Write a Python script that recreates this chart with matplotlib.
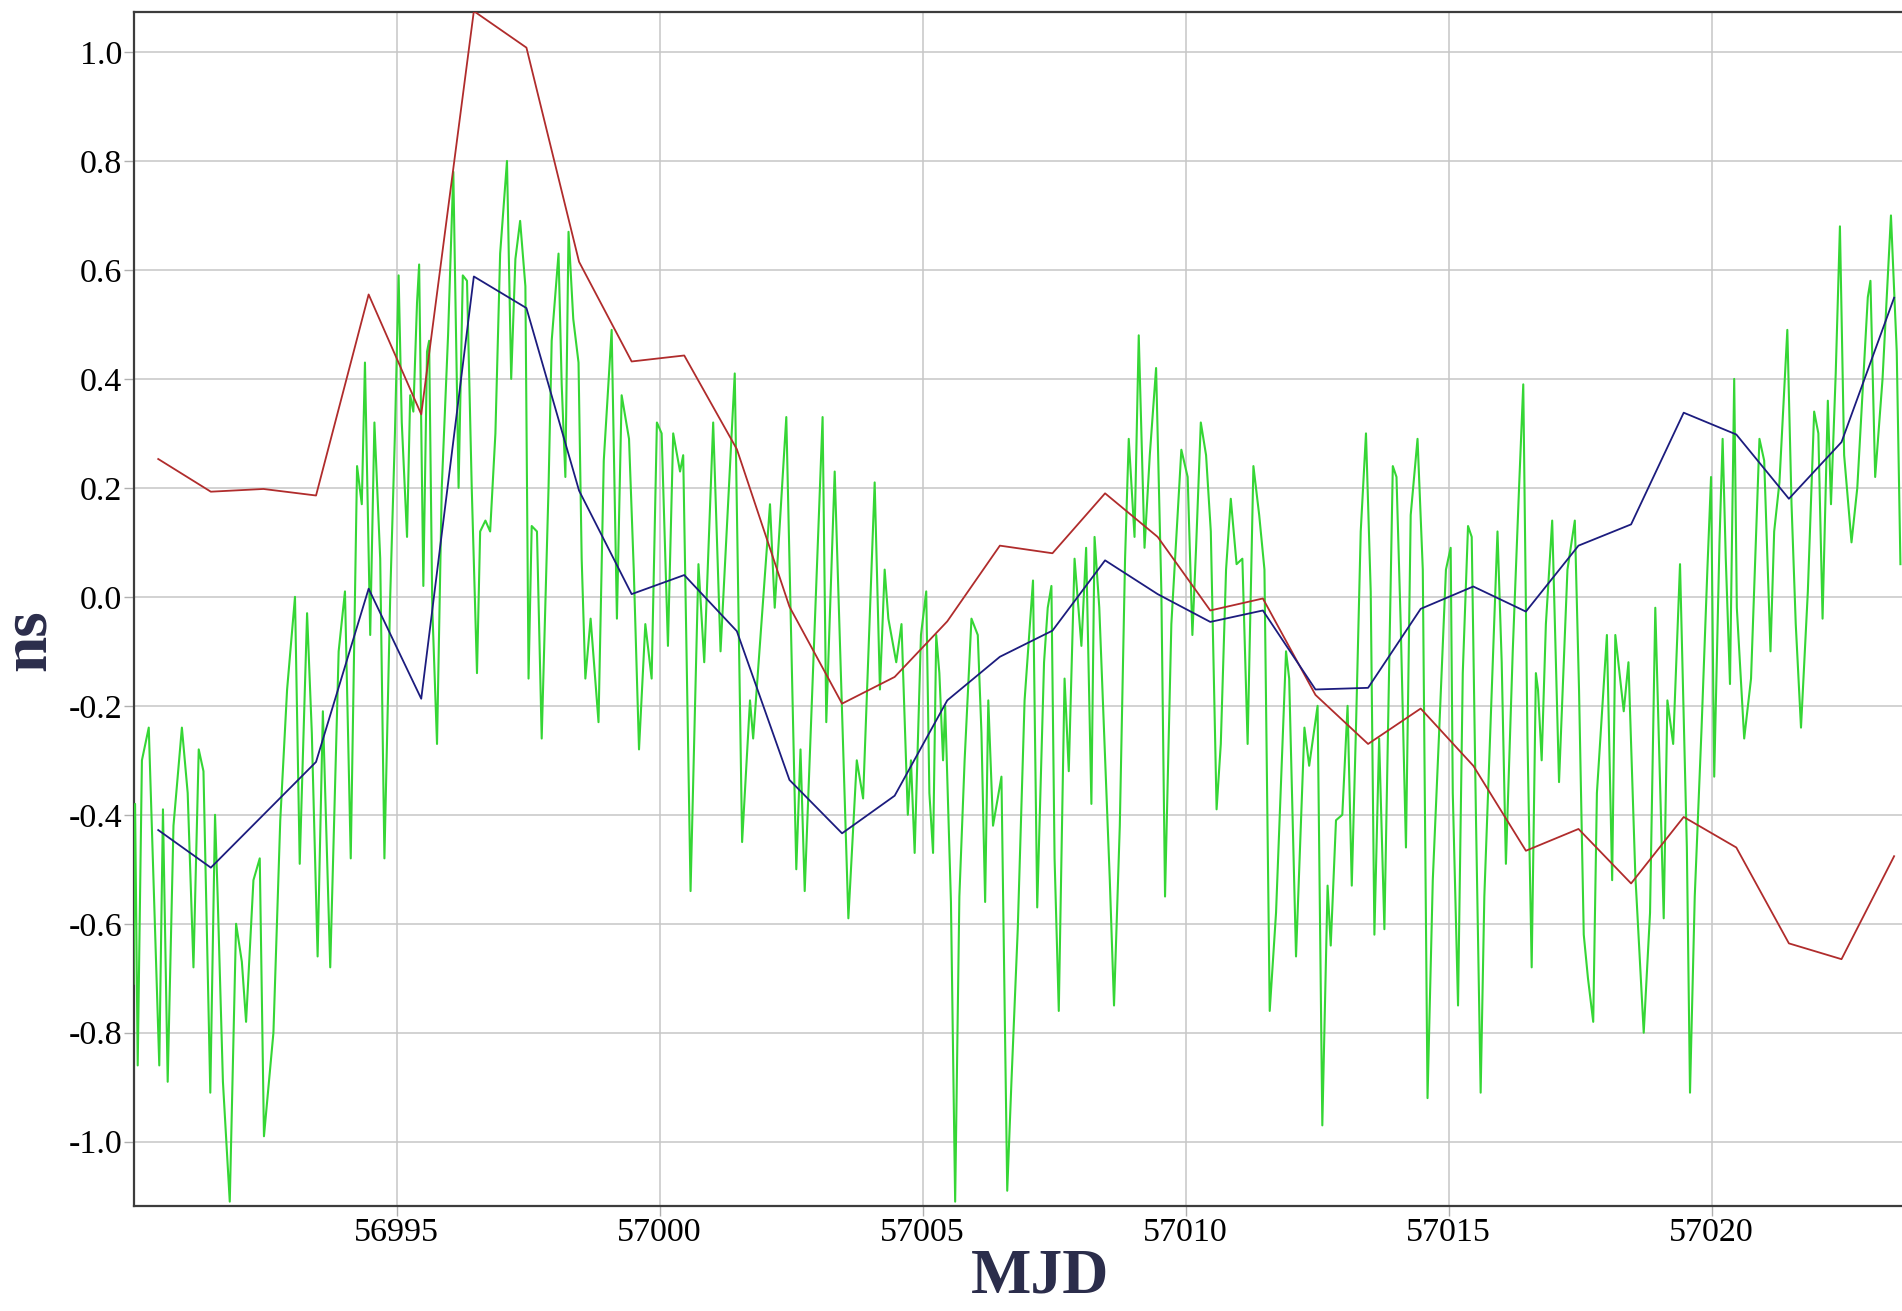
import matplotlib
matplotlib.use("Agg")
import matplotlib.pyplot as plt

plt.rcParams['font.family'] = ['Liberation Serif', 'DejaVu Serif']
plt.rcParams['axes.unicode_minus'] = False

# daily solutions (MJD, ns)
day_mjd = [56990.47, 56991.47, 56992.47, 56993.47, 56994.47, 56995.47, 56996.47,
           56997.47, 56998.47, 56999.47, 57000.47, 57001.47, 57002.47, 57003.47,
           57004.47, 57005.47, 57006.47, 57007.47, 57008.47, 57009.47, 57010.47,
           57011.47, 57012.47, 57013.47, 57014.47, 57015.47, 57016.47, 57017.47,
           57018.47, 57019.47, 57020.47, 57021.47, 57022.47, 57023.47]
red_ns = [0.253, 0.193, 0.198, 0.186, 0.555, 0.335, 1.075, 1.008, 0.615, 0.432,
          0.443, 0.271, -0.018, -0.196, -0.147, -0.045, 0.094, 0.080, 0.190, 0.110,
          -0.025, -0.003, -0.180, -0.270, -0.205, -0.310, -0.466, -0.426, -0.526,
          -0.404, -0.460, -0.636, -0.665, -0.476]
blue_ns = [-0.428, -0.497, -0.400, -0.303, 0.015, -0.187, 0.588, 0.530, 0.195,
           0.005, 0.040, -0.063, -0.336, -0.434, -0.365, -0.190, -0.110, -0.062,
           0.067, 0.005, -0.046, -0.025, -0.170, -0.167, -0.022, 0.019, -0.027,
           0.094, 0.133, 0.338, 0.298, 0.180, 0.284, 0.549]

# sub-daily series
green_mjd = [
    56990.00, 56990.03, 56990.08, 56990.16, 56990.29, 56990.38, 56990.49, 56990.56,
    56990.65, 56990.76, 56990.92, 56991.03, 56991.14, 56991.24, 56991.33, 56991.46,
    56991.55, 56991.60, 56991.70, 56991.83, 56991.95, 56992.06, 56992.14, 56992.28,
    56992.40, 56992.48, 56992.66, 56992.79, 56992.92, 56993.07, 56993.16, 56993.30,
    56993.39, 56993.50, 56993.60, 56993.74, 56993.90, 56994.02, 56994.13, 56994.25,
    56994.34, 56994.40, 56994.50, 56994.58, 56994.69, 56994.77, 56994.88, 56994.97,
    56995.04, 56995.10, 56995.20, 56995.26, 56995.32, 56995.39, 56995.43, 56995.51,
    56995.58, 56995.62, 56995.68, 56995.77, 56995.86, 56995.98, 56996.08, 56996.18,
    56996.26, 56996.34, 56996.43, 56996.53, 56996.59, 56996.69, 56996.78, 56996.88,
    56996.97, 56997.10, 56997.18, 56997.26, 56997.35, 56997.45, 56997.51, 56997.57,
    56997.67, 56997.76, 56997.89, 56997.95, 56998.08, 56998.14, 56998.21, 56998.27,
    56998.36, 56998.46, 56998.52, 56998.59, 56998.69, 56998.84, 56998.94, 56999.09,
    56999.19, 56999.28, 56999.42, 56999.51, 56999.61, 56999.73, 56999.85, 56999.95,
    57000.04, 57000.16, 57000.26, 57000.39, 57000.45, 57000.59, 57000.74, 57000.85,
    57001.02, 57001.16, 57001.43, 57001.57, 57001.72, 57001.78, 57002.10, 57002.19,
    57002.41, 57002.60, 57002.68, 57002.76, 57003.10, 57003.17, 57003.33, 57003.59,
    57003.75, 57003.87, 57004.09, 57004.19, 57004.28, 57004.35, 57004.50, 57004.60,
    57004.72, 57004.78, 57004.85, 57004.97, 57005.07, 57005.13, 57005.20, 57005.26,
    57005.32, 57005.39, 57005.43, 57005.54, 57005.62, 57005.70, 57005.80, 57005.93,
    57006.05, 57006.12, 57006.19, 57006.25, 57006.34, 57006.50, 57006.61, 57006.69,
    57006.81, 57006.94, 57007.10, 57007.18, 57007.31, 57007.38, 57007.45, 57007.51,
    57007.59, 57007.70, 57007.78, 57007.89, 57008.02, 57008.11, 57008.21, 57008.27,
    57008.36, 57008.56, 57008.64, 57008.75, 57008.85, 57008.92, 57009.03, 57009.11,
    57009.22, 57009.32, 57009.44, 57009.54, 57009.61, 57009.73, 57009.92, 57010.04,
    57010.13, 57010.20, 57010.29, 57010.39, 57010.48, 57010.59, 57010.67, 57010.77,
    57010.86, 57010.97, 57011.08, 57011.18, 57011.29, 57011.40, 57011.50, 57011.60,
    57011.72, 57011.91, 57011.97, 57012.10, 57012.26, 57012.35, 57012.51, 57012.60,
    57012.70, 57012.76, 57012.86, 57012.98, 57013.08, 57013.16, 57013.24, 57013.33,
    57013.43, 57013.52, 57013.59, 57013.68, 57013.78, 57013.94, 57014.01, 57014.09,
    57014.19, 57014.28, 57014.41, 57014.51, 57014.60, 57014.70, 57014.82, 57014.95,
    57015.04, 57015.08, 57015.18, 57015.27, 57015.37, 57015.44, 57015.52, 57015.61,
    57015.68, 57015.81, 57015.93, 57016.01, 57016.09, 57016.22, 57016.34, 57016.42,
    57016.50, 57016.58, 57016.66, 57016.70, 57016.77, 57016.85, 57016.97, 57017.10,
    57017.26, 57017.40, 57017.48, 57017.57, 57017.65, 57017.75, 57017.82, 57018.01,
    57018.11, 57018.17, 57018.33, 57018.42, 57018.55, 57018.71, 57018.83, 57018.93,
    57019.09, 57019.16, 57019.27, 57019.40, 57019.53, 57019.59, 57019.68, 57019.81,
    57019.92, 57019.99, 57020.05, 57020.15, 57020.21, 57020.27, 57020.35, 57020.43,
    57020.48, 57020.62, 57020.75, 57020.91, 57021.00, 57021.12, 57021.19, 57021.29,
    57021.44, 57021.52, 57021.60, 57021.70, 57021.83, 57021.95, 57022.03, 57022.11,
    57022.21, 57022.27, 57022.36, 57022.44, 57022.52, 57022.66, 57022.77, 57022.97,
    57023.02, 57023.11, 57023.25, 57023.41, 57023.52, 57023.59]
green_ns = [
    -0.71, -0.38, -0.86, -0.30, -0.24, -0.52, -0.86, -0.39,
    -0.89, -0.42, -0.24, -0.36, -0.68, -0.28, -0.32, -0.91,
    -0.40, -0.55, -0.89, -1.11, -0.60, -0.67, -0.78, -0.52,
    -0.48, -0.99, -0.80, -0.41, -0.17, 0.00, -0.49, -0.03,
    -0.25, -0.66, -0.21, -0.68, -0.10, 0.01, -0.48, 0.24,
    0.17, 0.43, -0.07, 0.32, 0.07, -0.48, 0.00, 0.30,
    0.59, 0.32, 0.11, 0.37, 0.34, 0.54, 0.61, 0.02,
    0.45, 0.47, -0.02, -0.27, 0.20, 0.48, 0.78, 0.20,
    0.59, 0.58, 0.20, -0.14, 0.12, 0.14, 0.12, 0.30,
    0.63, 0.80, 0.40, 0.62, 0.69, 0.57, -0.15, 0.13,
    0.12, -0.26, 0.20, 0.47, 0.63, 0.39, 0.22, 0.67,
    0.51, 0.43, 0.07, -0.15, -0.04, -0.23, 0.25, 0.49,
    -0.04, 0.37, 0.29, 0.05, -0.28, -0.05, -0.15, 0.32,
    0.30, -0.09, 0.30, 0.23, 0.26, -0.54, 0.06, -0.12,
    0.32, -0.10, 0.41, -0.45, -0.19, -0.26, 0.17, -0.02,
    0.33, -0.50, -0.28, -0.54, 0.33, -0.23, 0.23, -0.59,
    -0.30, -0.37, 0.21, -0.17, 0.05, -0.04, -0.12, -0.05,
    -0.40, -0.30, -0.47, -0.07, 0.01, -0.36, -0.47, -0.07,
    -0.14, -0.30, -0.20, -0.56, -1.11, -0.55, -0.30, -0.04,
    -0.07, -0.25, -0.56, -0.19, -0.42, -0.33, -1.09, -0.89,
    -0.61, -0.19, 0.03, -0.57, -0.12, -0.02, 0.02, -0.48,
    -0.76, -0.15, -0.32, 0.07, -0.09, 0.09, -0.38, 0.11,
    -0.02, -0.52, -0.75, -0.42, 0.07, 0.29, 0.11, 0.48,
    0.09, 0.26, 0.42, 0.01, -0.55, -0.05, 0.27, 0.22,
    -0.07, 0.09, 0.32, 0.26, 0.12, -0.39, -0.27, 0.05,
    0.18, 0.06, 0.07, -0.27, 0.24, 0.15, 0.05, -0.76,
    -0.58, -0.10, -0.15, -0.66, -0.24, -0.31, -0.20, -0.97,
    -0.53, -0.64, -0.41, -0.40, -0.20, -0.53, -0.24, 0.12,
    0.30, 0.01, -0.62, -0.26, -0.61, 0.24, 0.22, -0.05,
    -0.46, 0.15, 0.29, 0.05, -0.92, -0.52, -0.25, 0.05,
    0.09, -0.36, -0.75, -0.14, 0.13, 0.11, -0.40, -0.91,
    -0.55, -0.20, 0.12, -0.12, -0.49, -0.10, 0.20, 0.39,
    -0.26, -0.68, -0.14, -0.17, -0.30, -0.05, 0.14, -0.34,
    0.05, 0.14, -0.17, -0.62, -0.70, -0.78, -0.36, -0.07,
    -0.52, -0.07, -0.21, -0.12, -0.51, -0.80, -0.58, -0.02,
    -0.59, -0.19, -0.27, 0.06, -0.46, -0.91, -0.55, -0.24,
    0.05, 0.22, -0.33, 0.10, 0.29, 0.07, -0.16, 0.40,
    -0.02, -0.26, -0.15, 0.29, 0.25, -0.10, 0.12, 0.21,
    0.49, 0.17, -0.05, -0.24, 0.01, 0.34, 0.30, -0.04,
    0.36, 0.17, 0.41, 0.68, 0.26, 0.10, 0.20, 0.55,
    0.58, 0.22, 0.40, 0.70, 0.45, 0.06]

x_ticks = [56995, 57000, 57005, 57010, 57015, 57020]
x_tick_labels = ['56995', '57000', '57005', '57010', '57015', '57020']
y_ticks = [-1.0, -0.8, -0.6, -0.4, -0.2, 0.0, 0.2, 0.4, 0.6, 0.8, 1.0]
y_tick_labels = ['-1.0', '-0.8', '-0.6', '-0.4', '-0.2', '0.0', '0.2', '0.4', '0.6', '0.8', '1.0']

W, H = 1902, 1311
fig = plt.figure(figsize=(W / 100, H / 100), dpi=100)
ax = fig.add_axes([133.5 / W, 1 - 1206 / H, 1 - 133.5 / W, (1206 - 12) / H])

ax.plot(green_mjd, green_ns, color='#35d635', lw=1.5, zorder=3)
ax.plot(day_mjd, red_ns, color='#b02c2c', lw=1.3, zorder=4)
ax.plot(day_mjd, blue_ns, color='#1c1c7e', lw=1.3, zorder=5)

ax.set_xlim(56990.0, 57023.62)
ax.set_ylim(-1.118, 1.0734)
ax.set_xticks(x_ticks, x_tick_labels)
ax.set_yticks(y_ticks, y_tick_labels)

ax.grid(True, color='#c6c6c6', lw=1.1)
ax.set_axisbelow(True)
ax.tick_params(axis='both', length=7, width=1, color='#b0b0b0',
               labelsize=24.5, labelcolor='black', pad=1)

for side in ('top', 'left', 'bottom'):
    ax.spines[side].set_color('#3c3c3c')
    ax.spines[side].set_linewidth(1.6)
ax.spines['right'].set_visible(False)

label_color = '#2b2d4b'
ax.set_xlabel('MJD', fontsize=46, fontweight='bold', color=label_color)
ax.set_ylabel('ns', fontsize=47, fontweight='bold', color=label_color)
ax.xaxis.set_label_coords(0.5126, -0.036)
ax.yaxis.set_label_coords(-0.042, 0.474)

fig.savefig('out.png', dpi=100, facecolor='white')
